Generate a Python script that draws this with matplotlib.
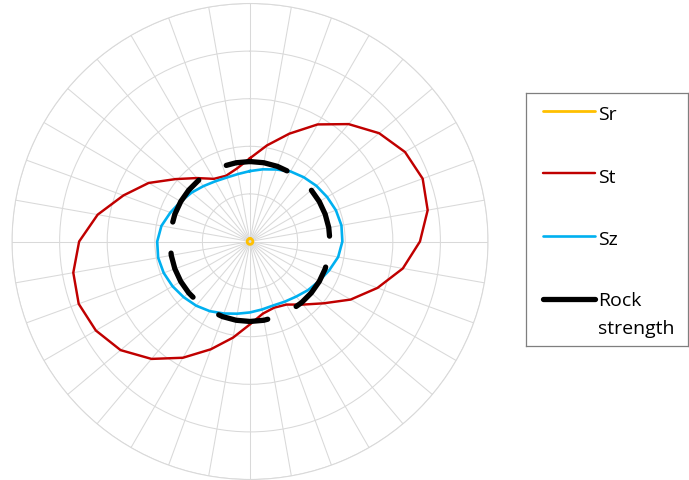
import numpy as np
import matplotlib.pyplot as plt

# Stress components around the borehole, one value every 10 degrees (clockwise from top)
angles_deg = list(range(0, 360, 10))

sr = [0.6] * 36

st = [17.5, 20.5, 24.1, 28.4, 32.2, 35.4, 37.6, 38.6, 37.9, 35.7, 32.6, 28.5,
      24.4, 20.2, 17.3, 15.3, 14.8, 15.4,
      17.4, 20.5, 24.1, 28.2, 32.2, 35.5, 37.4, 38.3, 37.7, 35.9, 32.5, 28.3,
      24.6, 20.4, 17.4, 15.2, 14.7, 15.6]

sz = [14.8, 15.4, 16.1, 17.0, 17.6, 18.2, 18.7, 19.2, 19.5, 19.4, 18.8, 17.7,
      16.7, 15.9, 15.1, 14.6, 14.3, 14.5,
      14.9, 15.4, 16.1, 16.9, 17.6, 18.2, 18.8, 19.3, 19.6, 19.5, 18.9, 17.8,
      16.8, 16.0, 15.2, 14.6, 14.3, 14.4]

ROCK_STRENGTH = 16.8
rock = [ROCK_STRENGTH] * len(angles_deg)

series_names = ['Sr', 'St', 'Sz', 'Rock\nstrength']
series_colors = ['#FFC000', '#C00000', '#00B0F0', '#000000']
series_widths = [2.0, 1.75, 1.9, 3.8]

r_max = 50
r_ticks = [10, 20, 30, 40, 50]
grid_color = '#d9d9d9'


def closed(values):
    return np.append(values, values[0])


theta = np.deg2rad(closed(angles_deg))
theta[-1] = 2 * np.pi

fig = plt.figure(figsize=(6.89, 4.81), dpi=100)
ax = fig.add_axes([0.01742, 0.00104, 0.6909, 0.9896], projection='polar')
ax.set_theta_zero_location('N')
ax.set_theta_direction(-1)
ax.set_ylim(0, r_max)
ax.set_thetagrids(angles_deg, labels=[])
ax.set_rgrids(r_ticks, labels=[])
ax.grid(True, color=grid_color, linewidth=0.75)
ax.spines['polar'].set_color(grid_color)
ax.spines['polar'].set_linewidth(0.75)
ax.set_axisbelow(True)

ax.plot(theta, closed(sr), color=series_colors[0], linewidth=series_widths[0])
ax.plot(theta, closed(st), color=series_colors[1], linewidth=series_widths[1])
ax.plot(theta, closed(sz), color=series_colors[2], linewidth=series_widths[2])
ax.plot(theta, closed(rock), color=series_colors[3], linewidth=series_widths[3],
        linestyle=(2.2, (9.5, 5.95)), dash_capstyle='round')

# Legend box on the right (coordinates in pixels inside the box)
lax = fig.add_axes([526 / 689, (481 - 347) / 481, 162 / 689, 253 / 481])
lax.set_xlim(0, 162)
lax.set_ylim(253, 0)
lax.set_xticks([])
lax.set_yticks([])
for s in lax.spines.values():
    s.set_color('#7f7f7f')
    s.set_linewidth(0.9)

handle_y = [18, 80, 143, 206]
baseline_y = [26, 88.5, 151, 211.5]
for name, color, hy, by, lw in zip(series_names, series_colors, handle_y,
                                   baseline_y, series_widths):
    lax.plot([17, 69], [hy, hy], color=color, linewidth=lw, solid_capstyle='round')
    for k, line in enumerate(name.split('\n')):
        lax.text(72, by + 28 * k, line, color='#000000', fontsize=14,
                 family='Open Sans', ha='left', va='baseline')

fig.savefig('out.png', dpi=100)
